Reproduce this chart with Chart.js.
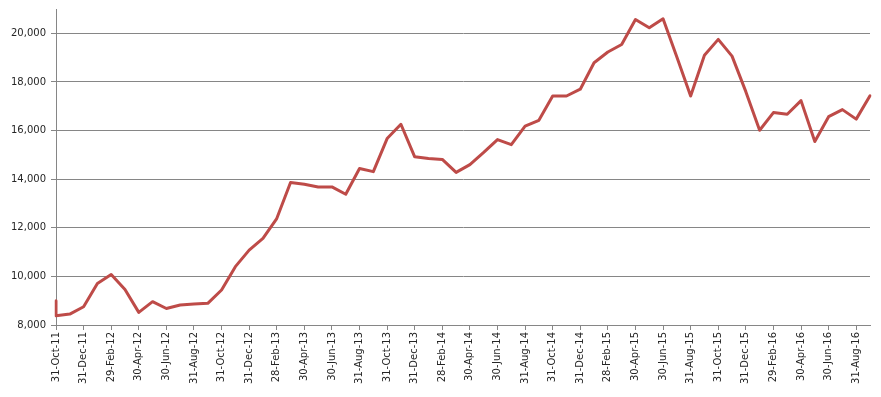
<!DOCTYPE html>
<html>
<head>
<meta charset="utf-8">
<script src="https://cdn.jsdelivr.net/npm/chart.js@4"></script>
<style>
  html, body { margin: 0; padding: 0; background: #fff; }
  #wrap { width: 881px; height: 397px; }
</style>
</head>
<body>
<div id="wrap"><canvas id="c" width="881" height="397"></canvas></div>
<script>
const monthLabels = [
  '31-Oct-11','30-Nov-11','31-Dec-11','31-Jan-12','29-Feb-12','31-Mar-12','30-Apr-12','31-May-12','30-Jun-12','31-Jul-12','31-Aug-12','30-Sep-12',
  '31-Oct-12','30-Nov-12','31-Dec-12','31-Jan-13','28-Feb-13','31-Mar-13','30-Apr-13','31-May-13','30-Jun-13','31-Jul-13','31-Aug-13','30-Sep-13',
  '31-Oct-13','30-Nov-13','31-Dec-13','31-Jan-14','28-Feb-14','31-Mar-14','30-Apr-14','31-May-14','30-Jun-14','31-Jul-14','31-Aug-14','30-Sep-14',
  '31-Oct-14','30-Nov-14','31-Dec-14','31-Jan-15','28-Feb-15','31-Mar-15','30-Apr-15','31-May-15','30-Jun-15','31-Jul-15','31-Aug-15','30-Sep-15',
  '31-Oct-15','30-Nov-15','31-Dec-15','31-Jan-16','29-Feb-16','31-Mar-16','30-Apr-16','31-May-16','30-Jun-16','31-Jul-16','31-Aug-16','30-Sep-16'
];
// opening value plotted at the first date, before the month-end value
const openingValue = 9000;
const monthValues = [
  8380, 8450, 8750, 9710, 10080, 9460, 8520, 8960, 8680, 8820, 8860, 8890,
  9440, 10400, 11080, 11560, 12380, 13860, 13790, 13680, 13680, 13380, 14440, 14310,
  15670, 16260, 14920, 14850, 14810, 14280, 14600, 15100, 15630, 15420, 16180, 16420,
  17420, 17420, 17700, 18790, 19230, 19540, 20570, 20230, 20600, 19030, 17420, 19100,
  19750, 19060, 17600, 16010, 16740, 16670, 17230, 15550, 16570, 16860, 16470, 17430
];
const yTickValues = [8000, 10000, 12000, 14000, 16000, 18000, 20000];
const yMin = 8000, yMax = 21000;

const points = [{ x: monthLabels[0], y: openingValue }].concat(
  monthValues.map((v, i) => ({ x: monthLabels[i], y: v }))
);

const gridGray = '#868686';
const textColor = '#262626';
const font = { family: 'DejaVu Sans', size: 10 };

new Chart(document.getElementById('c'), {
  type: 'line',
  data: {
    labels: monthLabels,
    datasets: [{
      data: points,
      borderColor: '#BE4B48',
      borderWidth: 3,
      pointRadius: 0,
      pointHoverRadius: 0,
      tension: 0,
      fill: false,
      borderJoinStyle: 'round',
      borderCapStyle: 'round'
    }]
  },
  options: {
    responsive: false,
    animation: false,
    events: [],
    layout: { padding: { top: 9, right: 11, bottom: 0, left: 0 } },
    plugins: { legend: { display: false }, tooltip: { enabled: false } },
    scales: {
      x: {
        type: 'category',
        offset: false,
        border: { display: true, color: gridGray, width: 1 },
        grid: {
          drawOnChartArea: false,
          drawTicks: true,
          tickLength: 5,
          color: (ctx) => (ctx.index % 2 === 0 ? gridGray : 'rgba(0,0,0,0)')
        },
        ticks: {
          autoSkip: false,
          minRotation: 90,
          maxRotation: 90,
          padding: 2,
          color: textColor,
          font: font,
          callback: function (val, idx) { return idx % 2 === 0 ? monthLabels[idx] : ''; }
        },
        afterFit: (scale) => {
          scale.height = 72;
          scale.paddingLeft = 0;
          scale.paddingRight = 0;
        }
      },
      y: {
        min: yMin,
        max: yMax,
        border: { display: true, color: gridGray, width: 1 },
        grid: {
          color: gridGray,
          lineWidth: 1,
          drawTicks: true,
          tickLength: 5
        },
        ticks: {
          autoSkip: false,
          padding: 5,
          color: textColor,
          font: font,
          callback: (v) => Number(v).toLocaleString('en-US')
        },
        afterBuildTicks: (scale) => {
          scale.ticks = yTickValues.map(v => ({ value: v }));
        },
        afterFit: (scale) => {
          scale.width = 56;
          scale.paddingTop = 0;
          scale.paddingBottom = 0;
        }
      }
    }
  }
});
</script>
</body>
</html>
